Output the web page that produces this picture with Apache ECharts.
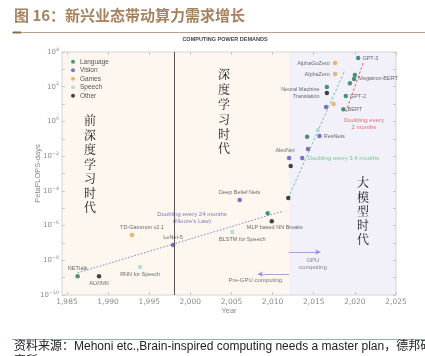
<!DOCTYPE html>
<html><head><meta charset="utf-8">
<script src="https://cdn.jsdelivr.net/npm/echarts@6/dist/echarts.min.js"></script>
<style>html,body{margin:0;padding:0;background:#fff}#c{width:425px;height:356px}</style>
</head><body><div id="c"></div>
<script>
// ---- data ----
const categories = ['Language', 'Vision', 'Games', 'Speech', 'Other'];

const languageNames  = ['NETtalk', '', '', 'Neural Machine\nTranslation', 'GPT-3', '', 'Megatron-BERT', '', 'GPT-2', 'BERT'];
const languageYears  = [1986.3, 2009.4, 2014.2, 2016.6, 2020.4, 2020.0, 2019.9, 2019.4, 2018.9, 2018.6];
const languageValues = [1.2e-9, 5.2e-6, 0.13, 95, 4500, 470, 280, 160, 29, 5.1];

const visionNames  = ['LeNet-5', 'Deep Belief Nets', 'AlexNet', '', '', 'ResNets', ''];
const visionYears  = [1997.9, 2006.0, 2012.0, 2013.6, 2014.3, 2015.7, 2016.5];
const visionValues = [7.6e-8, 3.0e-5, 7.8e-3, 7.8e-3, 2.6e-2, 0.145, 6.8];

const gamesNames  = ['TD-Gammon v2.1', '', 'AlphaGoZero', 'AlphaZero'];
const gamesYears  = [1992.9, 2017.4, 2017.6, 2017.6];
const gamesValues = [2.9e-7, 10, 2300, 540];

const speechNames  = ['RNN for Speech', 'BLSTM for Speech', ''];
const speechYears  = [1993.9, 2005.1, 2015.5];
const speechValues = [4.1e-9, 4.3e-7, 0.32];

const otherNames  = ['ALVINN', 'MLP based NN Breaks', '', '', ''];
const otherYears  = [1988.9, 2009.9, 2011.9, 2012.2, 2016.6];
const otherValues = [1.2e-9, 1.8e-6, 3.9e-5, 2.7e-3, 44];

// trend lines (two end points each)
const mooreYears = [1986.3, 2011.3];
const mooreValues = [1.9e-9, 6.9e-6];
const fastYears = [2011.9, 2018.8];
const fastValues = [3.9e-5, 910];
const fastestYears = [2018.9, 2021.1];
const fastestValues = [3.5, 3000];

// GPU / pre-GPU arrows
const gpuArrowYears = [2012, 2015.8];
const gpuArrowValue = 3.0e-8;
const preGpuArrowYears = [2012, 2008.2];
const preGpuArrowValue = 1.6e-9;

// annotations
const noteTexts  = ["Doubling every 24 months\n(Moore's Law)", 'Doubling every 3.4 months', 'Doubling every\n2 months', 'GPU\ncomputing', 'Pre-GPU computing'];
const noteYears  = [2000.2, 2018.6, 2021.1, 2014.9, 2007.9];
const noteValues = [2.9e-6, 7.8e-3, 0.76, 6.1e-9, 7.3e-10];

const eraBoundaries = [1998, 2012];
const xMin = 1984.4, xMax = 2025;
const xTickLabels = [1985, 1990, 1995, 2000, 2005, 2010, 2015, 2020, 2025];
const yMin = 1e-10, yMax = 1e4;

// ---- styles ----
const categoryColors = ['#1d7a58', '#5e50b4', '#eda24c', '#a6dcc7', '#151515'];
const noteColors = ['#5a5ab4', '#4cbf6e', '#e5484d', '#666666', '#555555'];
const labelPlacement = {
  'NETtalk': {position: 'top', distance: 2},
  'ALVINN': {position: 'bottom', distance: 2},
  'TD-Gammon v2.1': {position: 'top', distance: 2, offset: [10, 0]},
  'RNN for Speech': {position: 'bottom', distance: 2},
  'LeNet-5': {position: 'top', distance: 2},
  'Deep Belief Nets': {position: 'top', distance: 2},
  'BLSTM for Speech': {position: 'bottom', distance: 2, offset: [10, 0]},
  'MLP based NN Breaks': {position: 'bottom', distance: 1, offset: [3, 0]},
  'AlexNet': {position: 'top', distance: 2, offset: [-4, 0]},
  'ResNets': {position: 'right', distance: 2},
  'Neural Machine\nTranslation': {position: 'left', distance: 5, offset: [0, 6], align: 'right'},
  'AlphaGoZero': {position: 'left', distance: 3},
  'AlphaZero': {position: 'left', distance: 3},
  'GPT-3': {position: 'right', distance: 2},
  'Megatron-BERT': {position: 'right', distance: 2},
  'GPT-2': {position: 'right', distance: 2},
  'BERT': {position: 'right', distance: 2}
};
const SANS = "'Liberation Sans', Arial, sans-serif";
const CJK = "'Noto Serif CJK SC', 'Noto Sans CJK SC', sans-serif";

function points(names, years, values) {
  return years.map((yr, i) => {
    const n = names[i];
    const item = {name: n, value: [yr, values[i]]};
    if (n) item.label = Object.assign({show: true}, labelPlacement[n]);
    return item;
  });
}
function pairs(xs, ys) { return xs.map((x, i) => [x, ys[i]]); }

const catSets = [
  [languageNames, languageYears, languageValues],
  [visionNames, visionYears, visionValues],
  [gamesNames, gamesYears, gamesValues],
  [speechNames, speechYears, speechValues],
  [otherNames, otherYears, otherValues]
];

const chart = echarts.init(document.getElementById('c'), null, {renderer: 'canvas'});

const scatterSeries = categories.map((c, i) => ({
  type: 'scatter', name: c, z: 4,
  data: points(catSets[i][0], catSets[i][1], catSets[i][2]),
  symbolSize: 4.5,
  itemStyle: {color: categoryColors[i]},
  label: {formatter: '{b}', fontSize: 5.5, color: '#444', fontFamily: SANS, lineHeight: 6.5},
  emphasis: {disabled: true}
}));

const option = {
  animation: false,
  backgroundColor: '#fff',
  grid: {left: 62, right: 29, top: 52, bottom: 61, show: true, borderColor: '#d4d4d4', borderWidth: 1, backgroundColor: 'transparent'},
  legend: {
    data: categories, orient: 'vertical', left: 71, top: 58, padding: 0,
    icon: 'circle', itemWidth: 4, itemHeight: 4, itemGap: 1,
    textStyle: {fontSize: 6.5, color: '#555', fontFamily: SANS, lineHeight: 7.5},
    selectedMode: false
  },
  xAxis: [{
    type: 'value', min: xMin, max: xMax,
    name: 'Year', nameLocation: 'middle', nameGap: 12, nameMoveOverlap: false,
    nameTextStyle: {fontSize: 7.5, color: '#888', fontFamily: SANS},
    axisLine: {show: false},
    axisTick: {show: true, inside: true, length: 3, customValues: xTickLabels, lineStyle: {color: '#c8c8c8'}},
    axisLabel: {customValues: xTickLabels, fontSize: 7.5, color: '#8a8a8a', fontFamily: "'DejaVu Sans', sans-serif", margin: 3},
    splitLine: {show: false}
  }, {
    type: 'value', min: xMin, max: xMax, position: 'top',
    axisLine: {show: false},
    axisTick: {show: true, inside: true, length: 3, customValues: xTickLabels, lineStyle: {color: '#c8c8c8'}},
    axisLabel: {show: false}, splitLine: {show: false}
  }],
  yAxis: [{
    type: 'log', logBase: 10, min: yMin, max: yMax, interval: 1,
    name: 'PetaFLOPS-days', nameLocation: 'middle', nameGap: 20, nameMoveOverlap: false,
    nameTextStyle: {fontSize: 7.5, color: '#888', fontFamily: SANS},
    axisLine: {show: false},
    axisTick: {show: true, inside: true, length: 3, lineStyle: {color: '#c8c8c8'}},
    axisLabel: {
      margin: 3,
      formatter: v => {
        const e = Math.round(Math.log10(v));
        if (e % 2 !== 0) return '';
        return '{b|10}{s|' + (e < 0 ? '\u2212' : '') + Math.abs(e) + '}';
      },
      rich: {
        b: {fontSize: 7, color: '#8a8a8a', fontFamily: "'DejaVu Sans', sans-serif", lineHeight: 10},
        s: {fontSize: 4.8, color: '#8a8a8a', fontFamily: "'DejaVu Sans', sans-serif", verticalAlign: 'top', lineHeight: 10}
      }
    },
    splitLine: {show: false}
  }, {
    type: 'log', logBase: 10, min: yMin, max: yMax, interval: 1, position: 'right',
    axisLine: {show: false},
    axisTick: {show: true, inside: true, length: 3, lineStyle: {color: '#c8c8c8'}},
    axisLabel: {show: false}, splitLine: {show: false}
  }],
  series: [
    {
      type: 'line', name: 'eras', data: [], z: -1, silent: true,
      markArea: {
        silent: true, z: -1,
        data: [
          [{xAxis: xMin, itemStyle: {color: '#fdf7f0'}}, {xAxis: eraBoundaries[1]}],
          [{xAxis: eraBoundaries[1], itemStyle: {color: '#f2f1fa'}}, {xAxis: xMax}]
        ]
      },
      markLine: {
        silent: true, symbol: 'none', label: {show: false},
        lineStyle: {color: '#555', width: 1, type: 'solid'},
        data: [{xAxis: eraBoundaries[0]}]
      }
    },
    {type: 'line', data: pairs(mooreYears, mooreValues), symbol: 'none', silent: true, z: 3,
     lineStyle: {color: '#8080cc', width: 1, type: [1.5, 1.8]}},
    {type: 'line', data: pairs(fastYears, fastValues), symbol: 'none', silent: true, z: 3,
     lineStyle: {color: '#6cc79a', width: 1, type: [2.5, 2]}},
    {type: 'line', data: pairs(fastestYears, fastestValues), symbol: 'none', silent: true, z: 3,
     lineStyle: {color: '#e85a5a', width: 1, type: [2.5, 2]}},
    {
      type: 'line', data: [], silent: true,
      markLine: {
        silent: true, symbol: ['none', 'arrow'], symbolSize: [4, 5], label: {show: false},
        lineStyle: {color: '#9090d0', width: 0.8, type: 'solid'},
        data: [
          [{coord: [gpuArrowYears[0], gpuArrowValue]}, {coord: [gpuArrowYears[1], gpuArrowValue]}],
          [{coord: [preGpuArrowYears[0], preGpuArrowValue]}, {coord: [preGpuArrowYears[1], preGpuArrowValue]}]
        ]
      }
    },
    ...scatterSeries,
    {
      type: 'scatter', name: 'notes', silent: true, z: 5, symbolSize: 1,
      itemStyle: {color: 'transparent'},
      data: noteTexts.map((t, i) => ({
        value: [noteYears[i], noteValues[i]], name: t,
        label: {show: true, position: 'inside', formatter: t, color: noteColors[i], fontSize: 6, lineHeight: 7, fontFamily: SANS, align: 'center'}
      }))
    }
  ],
  graphic: [
    {type: 'text', left: 14, top: 8, style: {text: '图 16：新兴业态带动算力需求增长', font: "bold 15px 'Noto Sans CJK SC', sans-serif", fill: '#a6835e'}},
    {type: 'line', shape: {x1: 12, y1: 32.5, x2: 425, y2: 32.5}, style: {stroke: '#b9a086', lineWidth: 1}},
    {type: 'line', shape: {x1: 13, y1: 32.5, x2: 21, y2: 32.5}, style: {stroke: '#8a6a48', lineWidth: 2}},
    {type: 'text', x: 225, y: 39.5, style: {text: 'COMPUTING POWER DEMANDS', font: "bold 5.5px 'Liberation Sans', Arial, sans-serif", fill: '#444', align: 'center', verticalAlign: 'middle'}},
    {type: 'text', x: 90, y: 113.5, z: 10, style: {text: '前\n深\n度\n学\n习\n时\n代', font: "12px " + CJK, lineHeight: 14.5, fill: '#222', align: 'center', verticalAlign: 'top'}},
    {type: 'text', x: 224, y: 67.5, z: 10, style: {text: '深\n度\n学\n习\n时\n代', font: "12px " + CJK, lineHeight: 14.8, fill: '#222', align: 'center', verticalAlign: 'top'}},
    {type: 'text', x: 363, y: 175.5, z: 10, style: {text: '大\n模\n型\n时\n代', font: "12px " + CJK, lineHeight: 14.3, fill: '#222', align: 'center', verticalAlign: 'top'}},
    {type: 'line', shape: {x1: 12, y1: 339.5, x2: 425, y2: 339.5}, style: {stroke: '#b9a086', lineWidth: 1}},
    {type: 'text', x: 14, y: 347, style: {text: '资料来源：Mehoni etc.,Brain-inspired computing needs a master plan，德邦研', font: "12px 'Liberation Sans', 'Noto Sans CJK SC', sans-serif", fill: '#222', verticalAlign: 'middle'}},
    {type: 'text', x: 14, y: 360, style: {text: '究所', font: "12px 'Noto Sans CJK SC', sans-serif", fill: '#222', verticalAlign: 'middle'}}
  ]
};
chart.setOption(option);
</script>
</body></html>
